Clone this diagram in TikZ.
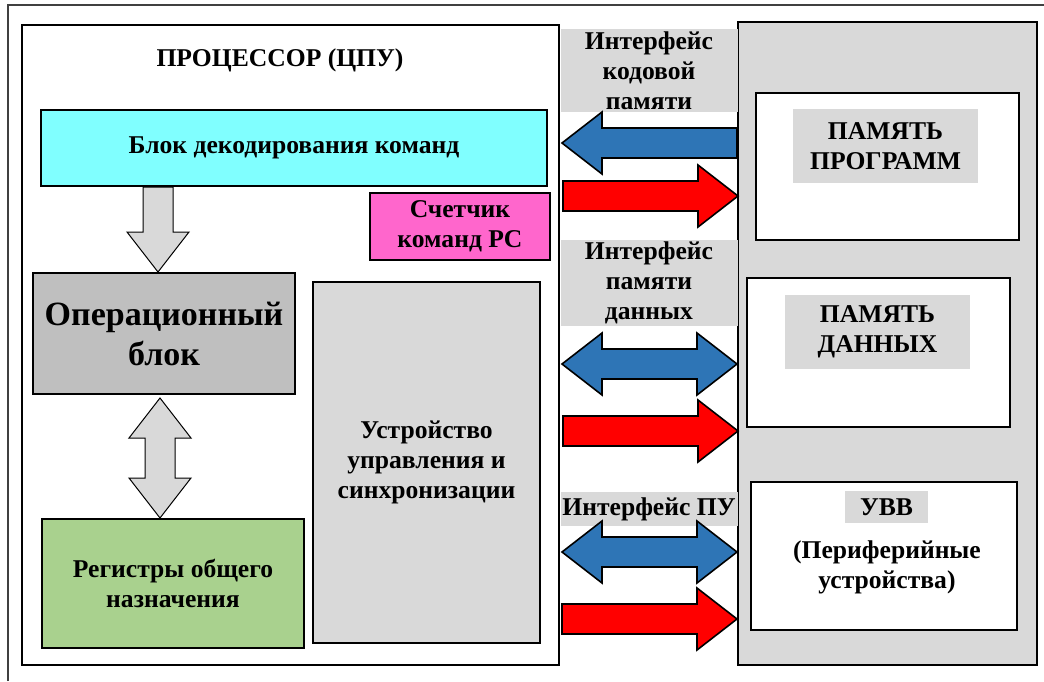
\documentclass[tikz,border=0pt]{standalone}
\usepackage{fontspec}
\setmainfont{Liberation Serif}
\usetikzlibrary{calc}

\definecolor{decodecyan}{HTML}{80FFFF}
\definecolor{counterpink}{HTML}{FF66CC}
\definecolor{opgray}{HTML}{BFBFBF}
\definecolor{reggreen}{HTML}{A9D18E}
\definecolor{panelgray}{HTML}{D9D9D9}
\definecolor{busblue}{HTML}{2E75B6}
\definecolor{busred}{HTML}{FF0000}

% point at distance #1 along the arrow and #2 across it
\newcommand\fatpt[2]{({\x1+(#1)*\n2-(#2)*\n3},{\y1+(#1)*\n3+(#2)*\n2})}

\tikzset{
  blk/.style={draw=black, line width=2pt, inner sep=0pt, align=center,
    font=\fontsize{25.6}{30}\selectfont\bfseries},
  lbl/.style={fill=panelgray, inner sep=0pt, align=center,
    font=\fontsize{25.6}{30}\selectfont\bfseries},
  fatarrow/.style={draw=black, line width=1.6pt, line join=miter, to path={
    let \p1=(\tikztostart), \p2=(\tikztotarget),
        \n1={veclen(\x2-\x1,\y2-\y1)},
        \n2={(\x2-\x1)/\n1}, \n3={(\y2-\y1)/\n1} in
    \fatpt{0}{15} -- \fatpt{\n1-40}{15} -- \fatpt{\n1-40}{31} -- \fatpt{\n1}{0}
    -- \fatpt{\n1-40}{-31} -- \fatpt{\n1-40}{-15} -- \fatpt{0}{-15} -- cycle}},
  twinarrow/.style={draw=black, line width=1.6pt, line join=miter, to path={
    let \p1=(\tikztostart), \p2=(\tikztotarget),
        \n1={veclen(\x2-\x1,\y2-\y1)},
        \n2={(\x2-\x1)/\n1}, \n3={(\y2-\y1)/\n1} in
    \fatpt{0}{0} -- \fatpt{40}{31} -- \fatpt{40}{15} -- \fatpt{\n1-40}{15}
    -- \fatpt{\n1-40}{31} -- \fatpt{\n1}{0} -- \fatpt{\n1-40}{-31}
    -- \fatpt{\n1-40}{-15} -- \fatpt{40}{-15} -- \fatpt{40}{-31} -- cycle}}
}

\begin{document}
\begin{tikzpicture}[x=1pt, y=-1pt]
\useasboundingbox (0,0) rectangle (1044,681);

% outer frame (cut at right and bottom)
\draw[gray!50!black, line width=1.5pt] (8,681) -- (8,5) -- (1044,5);

% processor
\node[blk, minimum width=537pt, minimum height=640pt] (cpu) at (290.5,345) {};
\node[font=\fontsize{25.6}{30}\selectfont\bfseries] (cputitle) at (280,60) {ПРОЦЕССОР (ЦПУ)};
\node[blk, fill=decodecyan, minimum width=506pt, minimum height=76pt] (dec) at (294,148)
  {Блок декодирования команд};
\node[blk, fill=counterpink, minimum width=180pt, minimum height=67pt] (pc) at (460,226)
  {Счетчик\\команд PC};
\node[blk, fill=opgray, minimum width=262pt, minimum height=121pt,
  font=\fontsize{34}{40}\selectfont\bfseries] (op) at (164,333.5) {Операционный\\блок};
\node[blk, fill=reggreen, minimum width=262pt, minimum height=129pt] (reg) at (173,583.5)
  {Регистры общего\\назначения};
\node[blk, fill=panelgray, minimum width=227pt, minimum height=361pt] (cu) at (426.5,462.5)
  {Устройство\\управления и\\синхронизации};

% memories and i/o
\node[blk, fill=panelgray, minimum width=299pt, minimum height=643pt] (col) at (887.5,343.5) {};
\node[blk, fill=white, minimum width=263pt, minimum height=147pt] (pgm) at (887.5,166.5) {};
\node[lbl, minimum width=185pt, minimum height=74pt] (pgmlbl) at (885.5,146) {ПАМЯТЬ\\ПРОГРАММ};
\node[blk, fill=white, minimum width=263pt, minimum height=149pt] (dat) at (878.5,352.5) {};
\node[lbl, minimum width=185pt, minimum height=74pt] (datlbl) at (877.5,332) {ПАМЯТЬ\\ДАННЫХ};
\node[blk, fill=white, minimum width=266pt, minimum height=148pt] (io) at (884,556) {};
\node[lbl, minimum width=83pt, minimum height=32pt] (iolbl) at (886.5,507) {УВВ};
\node[font=\fontsize{25.6}{30}\selectfont\bfseries, align=center] (iotext) at (887,567)
  {(Периферийные\\устройства)};

% interface labels
\node[lbl, minimum width=177pt, minimum height=83pt] (ifcode) at (649,70.5)
  {Интерфейс\\кодовой\\памяти};
\node[lbl, minimum width=177pt, minimum height=86pt] (ifdata) at (649,283)
  {Интерфейс\\памяти\\данных};
\node[lbl, minimum width=177pt, minimum height=34pt] (ifio) at (649,509) {Интерфейс ПУ};

% buses
\draw[fatarrow, fill=busblue] (col.west |- 0,143) to ([xshift=2pt]cpu.east |- 0,143);
\draw[fatarrow, fill=busred] ([xshift=3pt]cpu.east |- 0,196) to ([xshift=1pt]col.west |- 0,196);
\draw[twinarrow, fill=busblue] ([xshift=2pt]cpu.east |- 0,364) to (col.west |- 0,364);
\draw[fatarrow, fill=busred] ([xshift=3pt]cpu.east |- 0,431) to ([xshift=1pt]col.west |- 0,431);
\draw[twinarrow, fill=busblue] ([xshift=2pt]cpu.east |- 0,552) to (col.west |- 0,552);
\draw[fatarrow, fill=busred] ([xshift=2pt]cpu.east |- 0,619) to (col.west |- 0,619);

% inside the processor
\draw[fatarrow, fill=panelgray, line width=1pt] (dec.south -| 158,0) to (op.north -| 158,0);
\draw[twinarrow, fill=panelgray, line width=1pt] ([yshift=-3pt]op.south -| 160,0) to (reg.north -| 160,0);

\end{tikzpicture}
\end{document}
